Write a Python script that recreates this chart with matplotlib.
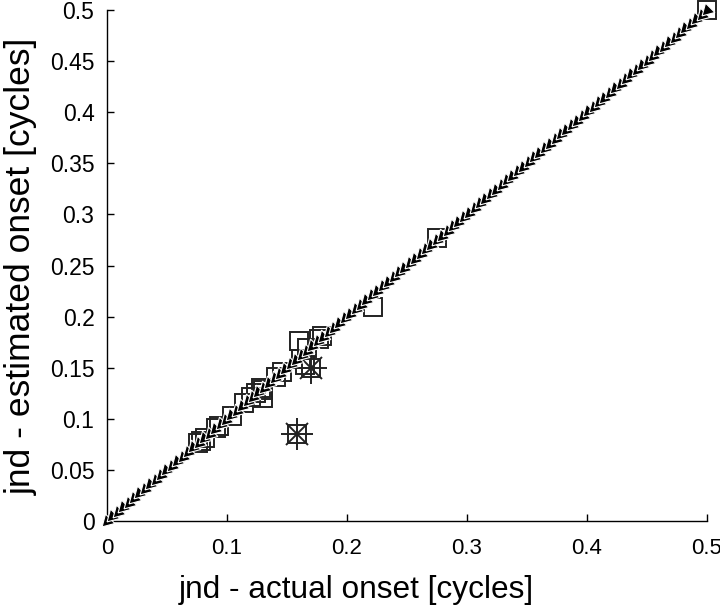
import numpy as np
import matplotlib.pyplot as plt

plt.rcParams['font.family'] = ['Liberation Sans', 'DejaVu Sans']

# jnd values (cycles): actual onset vs estimated onset
actual = [0.076, 0.078, 0.082, 0.091, 0.093, 0.104, 0.114, 0.120, 0.124, 0.128,
          0.130, 0.130, 0.141, 0.146, 0.160, 0.162, 0.165, 0.167, 0.177, 0.179,
          0.222, 0.275, 0.500]
estimated = [0.076, 0.078, 0.081, 0.091, 0.093, 0.103, 0.115, 0.121, 0.125, 0.130,
             0.128, 0.120, 0.141, 0.146, 0.176, 0.159, 0.153, 0.169, 0.178, 0.181,
             0.209, 0.277, 0.500]

# outliers marked with asterisks
out_actual = [0.170, 0.158]
out_estimated = [0.150, 0.085]

# identity line
ident_lo, ident_hi, ident_n = 0.0, 0.5, 112

fig = plt.figure(figsize=(7.2, 6.09), dpi=100)
ax = fig.add_axes([0.1486, 0.1445, 0.8334, 0.839])

ident = np.linspace(ident_lo, ident_hi, ident_n)
ax.plot(ident, ident, linestyle='none', marker=(3, 0, 135), markersize=11,
        markerfacecolor='black', markeredgecolor='white', markeredgewidth=0.8,
        zorder=3, clip_on=False)
ax.plot([ident_hi], [ident_hi], 'k.', markersize=3, zorder=4, clip_on=False)

ax.plot(actual, estimated, linestyle='none', marker='s', markersize=12.5,
        markerfacecolor='none', markeredgecolor='#222222', markeredgewidth=1.4,
        zorder=2, clip_on=False)
ax.plot(out_actual, out_estimated, linestyle='none', marker='s', markersize=12.5,
        markerfacecolor='none', markeredgecolor='#222222', markeredgewidth=1.4, zorder=2)
ax.plot(out_actual, out_estimated, linestyle='none', marker='+', markersize=23,
        markeredgecolor='#222222', markeredgewidth=1.4, zorder=2)
ax.plot(out_actual, out_estimated, linestyle='none', marker='x', markersize=16,
        markeredgecolor='#222222', markeredgewidth=1.4, zorder=2)

ax.set_xlim(0, 0.5)
ax.set_ylim(0, 0.5)
xt = [0, 0.1, 0.2, 0.3, 0.4, 0.5]
yt = [0, 0.05, 0.1, 0.15, 0.2, 0.25, 0.3, 0.35, 0.4, 0.45, 0.5]
ax.set_xticks(xt)
ax.set_xticklabels(['%g' % v for v in xt])
ax.set_yticks(yt)
ax.set_yticklabels(['%g' % v for v in yt])
ax.tick_params(direction='in', length=5, width=1)
ax.tick_params(axis='x', pad=12, labelsize=16)
ax.tick_params(axis='y', pad=9, labelsize=16.5)
for s in ['top', 'right']:
    ax.spines[s].set_visible(False)
for s in ['left', 'bottom']:
    ax.spines[s].set_linewidth(1)

ax.set_xlabel('jnd - actual onset [cycles]', fontsize=22.75)
ax.set_ylabel('jnd - estimated onset [cycles]', fontsize=25.5)
ax.xaxis.set_label_coords(0.415, -0.106)
ax.yaxis.set_label_coords(-0.116, 0.499)

fig.savefig('out.png', dpi=100)
